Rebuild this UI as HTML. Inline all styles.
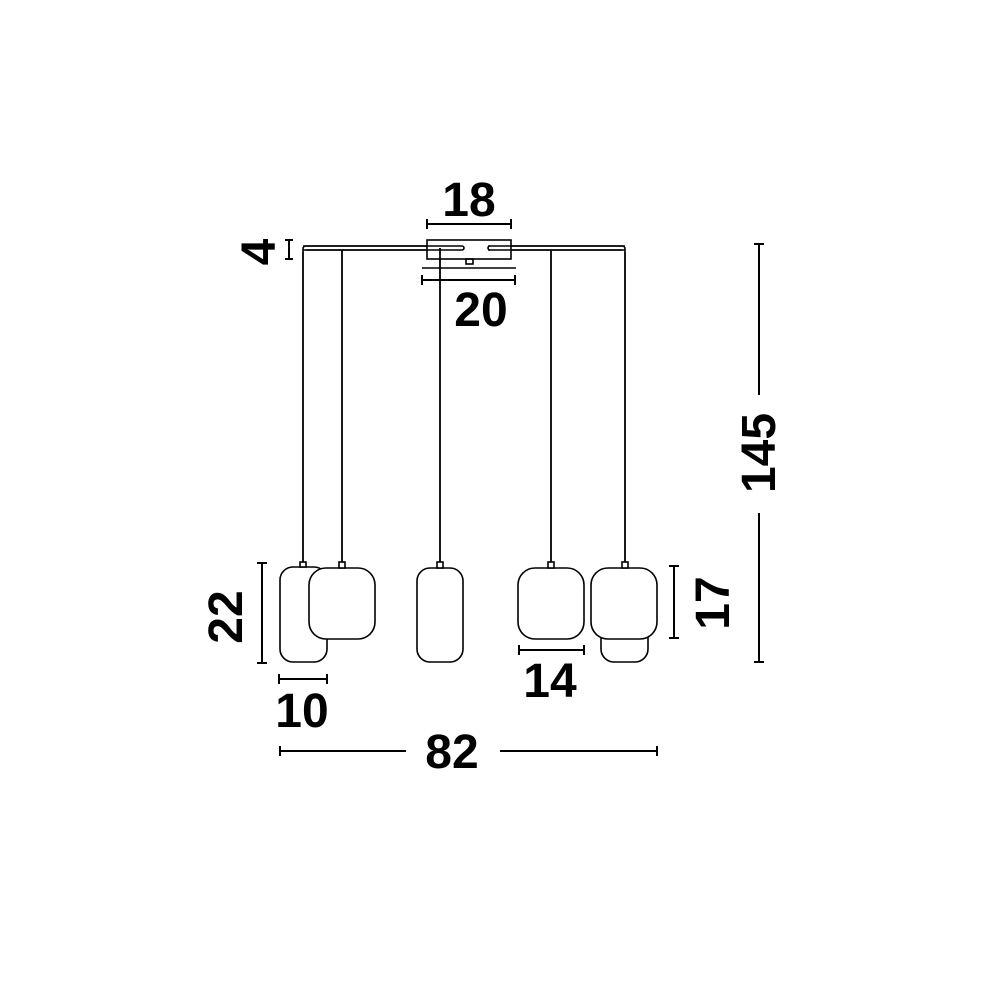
<!DOCTYPE html>
<html><head><style>html,body{margin:0;padding:0;background:#fff}svg{display:block}text{font-family:"Liberation Sans",sans-serif;font-weight:bold;fill:#000}</style></head>
<body>
<svg width="1000" height="1000" viewBox="0 0 1000 1000" xmlns="http://www.w3.org/2000/svg">
<g stroke="#000" fill="none" stroke-width="1.6">
<path d="M303 252 L303 249 Q303 246 306 246 L622 246 Q625 246 625 249 L625 252"/>
<line x1="306" y1="250" x2="622" y2="250"/>
<rect x="427" y="240" width="84" height="19" fill="#fff"/>
<line x1="303" y1="246" x2="440" y2="246"/><line x1="303" y1="250" x2="440" y2="250"/>
<line x1="488" y1="246" x2="625" y2="246"/><line x1="488" y1="250" x2="625" y2="250"/>
<path d="M440 246 L462 246 A2 2 0 0 1 462 250 L440 250"/>
<path d="M490 246 A2 2 0 0 0 490 250"/>
<rect x="466" y="259" width="7" height="5"/>
<line x1="422" y1="268" x2="516" y2="268"/>
<g stroke-width="1.8">
<line x1="303" y1="252" x2="303" y2="562"/>
<line x1="342" y1="250" x2="342" y2="562"/>
<line x1="440" y1="248" x2="440" y2="562"/>
<line x1="551" y1="250" x2="551" y2="562"/>
<line x1="625" y1="252" x2="625" y2="562"/>
</g>
<rect x="280" y="567" width="47" height="95" rx="13" fill="#fff"/>
<rect x="309" y="568" width="66" height="71" rx="17" fill="#fff"/>
<rect x="417" y="568" width="46" height="94" rx="13" fill="#fff"/>
<rect x="518" y="568" width="66" height="71" rx="17" fill="#fff"/>
<rect x="601" y="600" width="47" height="62" rx="13" fill="#fff"/>
<rect x="591" y="568" width="66" height="71" rx="17" fill="#fff"/>
<g fill="#fff">
<rect x="300" y="562" width="6" height="5"/><rect x="339" y="562" width="6" height="6"/>
<rect x="437" y="562" width="6" height="6"/><rect x="548" y="562" width="6" height="6"/>
<rect x="622" y="562" width="6" height="6"/>
</g>
<g stroke-width="2">
<path d="M427 224 H511 M427 219 V229 M511 219 V229"/>
<path d="M422 280 H515 M422 275 V285 M515 275 V285"/>
<path d="M289 240 V259 M285 240 H293 M285 259 H293"/>
<path d="M262 563 V663 M257 563 H267 M257 663 H267"/>
<path d="M279 679 H327 M279 674 V684 M327 674 V684"/>
<path d="M519 650 H584 M519 645 V655 M584 645 V655"/>
<path d="M674 566 V638 M669 566 H679 M669 638 H679"/>
<path d="M759 244 V395 M759 513 V662 M754 244 H764 M754 662 H764"/>
<path d="M280 751 H406 M500 751 H657 M280 746 V756 M657 746 V756"/>
</g>
</g>
<g font-size="48" text-anchor="middle">
<text x="469" y="216">18</text>
<text x="481" y="326">20</text>
<text x="302" y="727">10</text>
<text x="550" y="697">14</text>
<text x="452" y="768">82</text>
<text transform="translate(242 617) rotate(-90)">22</text>
<text transform="translate(729 603) rotate(-90)">17</text>
<text transform="translate(775 453) rotate(-90)">145</text>
<text transform="translate(275 252) rotate(-90)">4</text>
</g>
</svg>
</body></html>
